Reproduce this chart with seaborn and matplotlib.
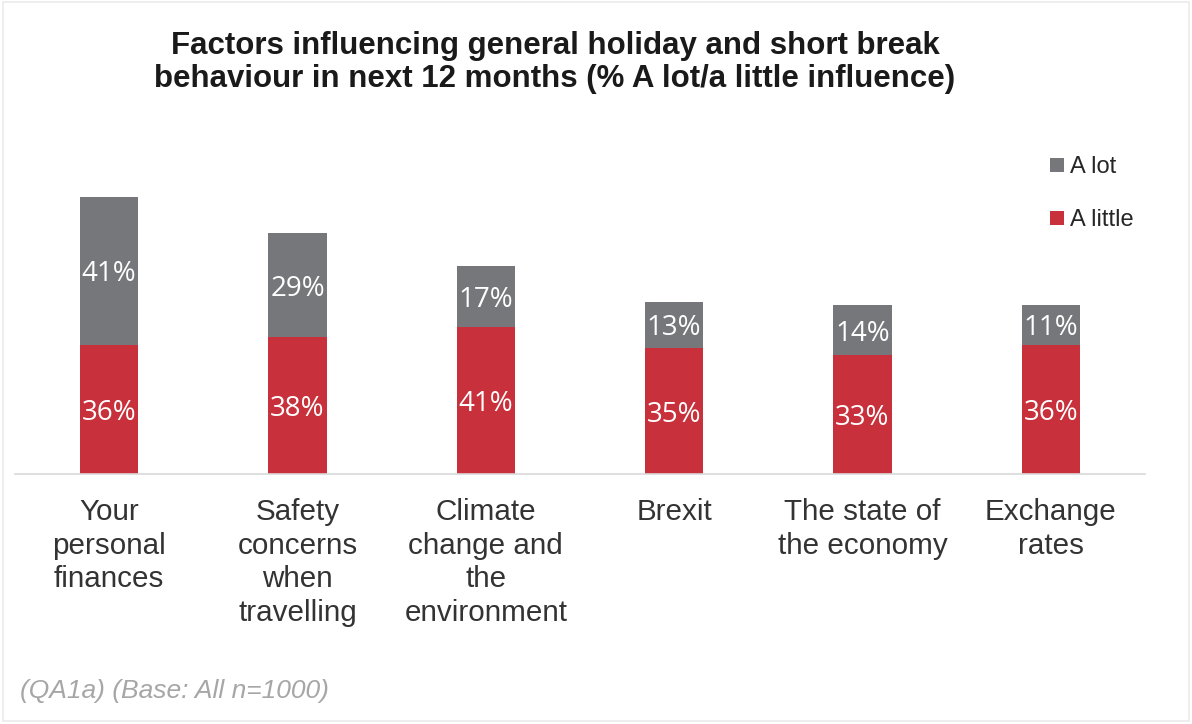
import matplotlib
matplotlib.use("Agg")
import matplotlib.pyplot as plt
import matplotlib.patches as mpatches
from matplotlib.lines import Line2D
import seaborn as sns
import pandas as pd

# Survey results: share saying each factor has "a lot" / "a little" influence
categories = [
    "Your\npersonal\nfinances",
    "Safety\nconcerns\nwhen\ntravelling",
    "Climate\nchange and\nthe\nenvironment",
    "Brexit",
    "The state of\nthe economy",
    "Exchange\nrates",
]
a_little = [36, 38, 41, 35, 33, 36]
a_lot = [41, 29, 17, 13, 14, 11]

title = ("Factors influencing general holiday and short break\n"
         "behaviour in next 12 months (% A lot/a little influence)")
footnote = "(QA1a) (Base: All n=1000)"

GREY = "#76777b"
RED = "#c8313b"

sns.set_theme(style="white")
plt.rcParams["font.family"] = ["Liberation Sans", "DejaVu Sans"]

df = pd.DataFrame({
    "factor": categories,
    "little": a_little,
    "lot": a_lot,
})
df["total"] = df["little"] + df["lot"]

fig = plt.figure(figsize=(11.92, 7.24), dpi=100)
ax = fig.add_axes([15 / 1192, 250 / 724, 1130 / 1192, 0.47])

# Stacked bars: full height in grey, lower "a little" portion in red on top
sns.barplot(data=df, x="factor", y="total", color=GREY, width=0.31,
            saturation=1, ax=ax, linewidth=0)
sns.barplot(data=df, x="factor", y="little", color=RED, width=0.31,
            saturation=1, ax=ax, linewidth=0)

ax.set_ylim(0, 94.7)
ax.set_xlim(-0.5, len(categories) - 0.5)

for i, (lo, hi) in enumerate(zip(df["little"], df["lot"])):
    ax.text(i, lo / 2, f"{lo}%", ha="center", va="center_baseline",
            color="white", fontsize=20, family=["Open Sans", "DejaVu Sans"])
    ax.text(i, lo + hi / 2, f"{hi}%", ha="center", va="center_baseline",
            color="white", fontsize=20, family=["Open Sans", "DejaVu Sans"])

ax.set_xlabel("")
ax.set_ylabel("")
ax.set_yticks([])
ax.tick_params(axis="x", length=0, pad=17, labelsize=21.3, colors="#333333")
for lab in ax.get_xticklabels():
    lab.set_verticalalignment("top")
    lab.set_linespacing(1.27)
for side in ["left", "right", "top"]:
    ax.spines[side].set_visible(False)
ax.spines["bottom"].set_color("#d9d9d9")
ax.spines["bottom"].set_linewidth(1.2)

handles = [
    Line2D([0], [0], marker="s", linestyle="none", markersize=10,
           markerfacecolor=GREY, markeredgewidth=0, label="A lot"),
    Line2D([0], [0], marker="s", linestyle="none", markersize=10,
           markerfacecolor=RED, markeredgewidth=0, label="A little"),
]
fig.legend(handles=handles, loc="upper left",
           bbox_to_anchor=(1029 / 1192, 1 - 135 / 724), frameon=False,
           fontsize=17, handlelength=0.6, handletextpad=0.25,
           labelspacing=1.3, labelcolor="#262626")

fig.text(555 / 1192, 1 - 31 / 724, title, ha="center", va="top",
         fontsize=22.5, fontweight="bold", color="#1a1a1a", linespacing=1.12)
fig.text(20 / 1192, 1 - 691 / 724, footnote, ha="left", va="center",
         fontsize=19, style="italic", color="#a6a6a6")

# Thin light frame around the whole graphic
fig.patches.append(mpatches.Rectangle((3 / 1192, 3 / 724), 1186 / 1192,
                                      719 / 724, transform=fig.transFigure,
                                      fill=False, edgecolor="#ebebeb",
                                      linewidth=1.2))

fig.savefig("out.png", dpi=100)
